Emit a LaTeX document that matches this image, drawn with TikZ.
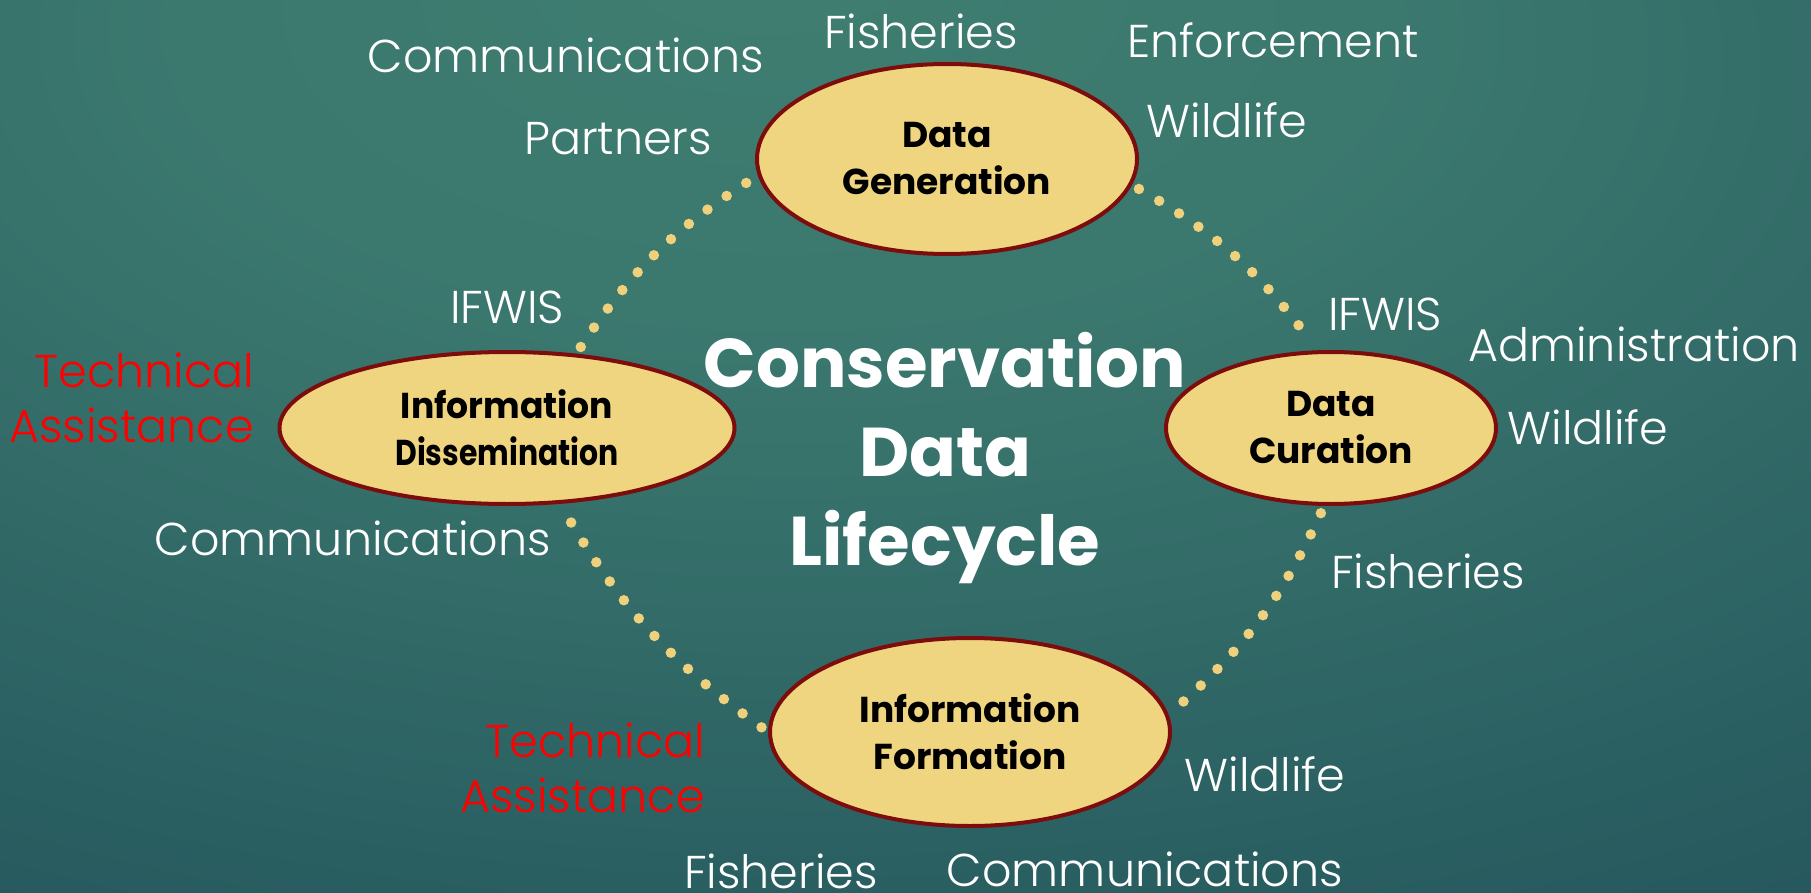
\documentclass[tikz,border=0pt]{standalone}
\usepackage{fontspec}
\setmainfont{Poppins}
\newfontfamily\lblfont{Poppins Light}
\usetikzlibrary{shapes.geometric}
\definecolor{bglight}{RGB}{63,126,113}
\definecolor{bgmid}{RGB}{40,92,96}
\definecolor{bgdark}{RGB}{25,64,80}
\definecolor{ellfill}{RGB}{240,213,128}
\definecolor{elldraw}{RGB}{125,12,12}
\definecolor{dotcol}{RGB}{238,208,125}
\pgfdeclareradialshading{bgshade}{\pgfpoint{-4bp}{28bp}}{color(0bp)=(bglight); color(18bp)=(bglight!80!bgmid); color(45bp)=(bgmid); color(75bp)=(bgdark); color(110bp)=(bgdark)}
\tikzset{
  phase/.style={ellipse, draw=elldraw, line width=4pt, fill=ellfill, inner sep=0pt,
    align=center, text=black, font=\bfseries\fontsize{36}{47}\selectfont},
  lbl/.style={text=white, font=\lblfont\fontsize{46}{55}\selectfont, inner sep=0pt},
  redlbl/.style={text=red, font=\lblfont\fontsize{46}{55}\selectfont, inner sep=0pt, align=right},
  title/.style={text=white, font=\bfseries\fontsize{69}{89}\selectfont, align=center, inner sep=0pt},
  dotline/.style={draw=dotcol, line width=10.5pt, line cap=round, dash pattern=on 0pt off 23.5pt, shorten <=8pt, shorten >=8pt}
}
\begin{document}
\begin{tikzpicture}[x=1pt,y=-1pt]
\useasboundingbox (0,0) rectangle (1811,893);
\shade[shading=bgshade] (0,0) rectangle (1811,893);
% phases
\node[phase, minimum width=380pt, minimum height=190pt] (gen) at (947,159) {Data\\Generation};
\node[phase, minimum width=455pt, minimum height=152pt] (dis) at (507,428) {\scalebox{0.96}[1]{Information}\\\scalebox{0.83}[1]{Dissemination}};
\node[phase, minimum width=330pt, minimum height=152pt] (cur) at (1331,428) {Data\\Curation};
\node[phase, minimum width=400pt, minimum height=188pt] (form) at (970,732) {Information\\Formation};
% dotted connectors
\draw[dotline] (gen.-8) to[bend left=12] (cur.100);
\draw[dotline] (cur.-95) to[bend left=12] (form.5);
\draw[dotline] (form.180) to[bend left=12] (dis.-55);
\draw[dotline] (dis.47) to[bend left=12] (gen.185);
% title
\node[title] (ttl) at (945,458) {Conservation\\Data\\Lifecycle};
% labels
\node[lbl] (l1) at (566,55) {Communications};
\node[lbl] (l2) at (921,31) {Fisheries};
\node[lbl] (l3) at (1273,40) {Enforcement};
\node[lbl] (l4) at (618,139) {Partners};
\node[lbl] (l5) at (1227,120) {Wildlife};
\node[lbl] (l6) at (507,307) {IFWIS};
\node[lbl] (l7) at (1385,314) {IFWIS};
\node[lbl] (l8) at (1634,344) {Administration};
\node[lbl] (l9) at (1588,427) {Wildlife};
\node[redlbl, anchor=east] (l10) at (254,398) {Technical\\Assistance};
\node[lbl] (l11) at (353,538) {Communications};
\node[lbl] (l12) at (1428,571) {Fisheries};
\node[redlbl, anchor=east] (l13) at (705,768) {Technical\\Assistance};
\node[lbl] (l14) at (1265,774) {Wildlife};
\node[lbl] (l15) at (781,871) {Fisheries};
\node[lbl] (l16) at (1145,869) {Communications};
\end{tikzpicture}
\end{document}
